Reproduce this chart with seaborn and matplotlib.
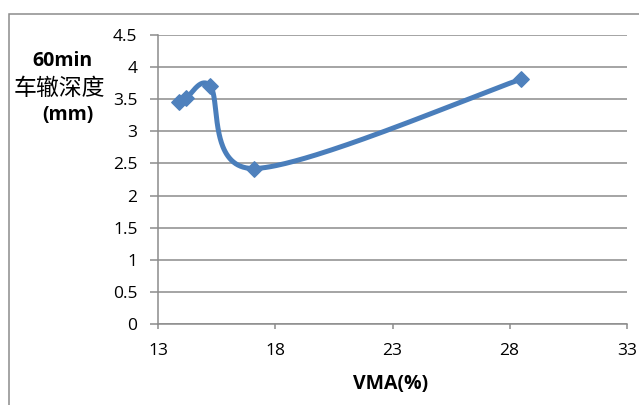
import numpy as np
import pandas as pd
import matplotlib
matplotlib.use("Agg")
import matplotlib.pyplot as plt
from matplotlib.patches import Rectangle
from matplotlib.ticker import FuncFormatter, MultipleLocator
import seaborn as sns

# VMA (%) vs 60-minute rut depth (mm)
vma = [13.9, 14.2, 15.2, 17.1, 28.5]
rut_depth = [3.45, 3.52, 3.71, 2.42, 3.81]

x_ticks = [13, 18, 23, 28, 33]
x_label = "VMA(%)"
y_label_lines = ["60min", "车辙深度", "(mm)"]

LINE_BLUE = "#4A7EBB"
MARKER_BLUE = "#4F81BD"
GRID_GRAY = "#8C8C8C"

sns.set_theme(style="white")
plt.rcParams["font.family"] = ["Open Sans", "DejaVu Sans"]

fig = plt.figure(figsize=(6.39, 4.05), dpi=100)
ax = fig.add_axes([0.2477, 0.1995, 0.7331, 0.7148])
ax.set_xlim(13, 33)
ax.set_ylim(0, 4.5)


def smooth_curve(xs, ys, axis, n=80):
    """Excel-style smoothed line: cubic Bezier segments built in screen space."""
    pts = axis.transData.transform(np.column_stack([xs, ys]))
    out = []
    m = len(pts)
    for i in range(m - 1):
        p0 = pts[i - 1] if i > 0 else pts[i]
        p1, p2 = pts[i], pts[i + 1]
        p3 = pts[i + 2] if i + 2 < m else pts[i + 1]
        d02 = np.linalg.norm(p2 - p0)
        d12 = np.linalg.norm(p2 - p1)
        d13 = np.linalg.norm(p3 - p1)
        f1 = f2 = 1 / 6
        if d02 > 0 and d02 / 6 > d12 / 2:
            f1 = d12 / (2 * d02)
        if d13 > 0 and d13 / 6 > d12 / 2:
            f2 = d12 / (2 * d13)
        c1 = p1 + f1 * (p2 - p0)
        c2 = p2 - f2 * (p3 - p1)
        t = np.linspace(0, 1, n)[:, None]
        seg = ((1 - t) ** 3) * p1 + 3 * ((1 - t) ** 2) * t * c1 \
            + 3 * (1 - t) * (t ** 2) * c2 + (t ** 3) * p2
        out.append(seg if i == 0 else seg[1:])
    curve = axis.transData.inverted().transform(np.vstack(out))
    return pd.DataFrame({"x": curve[:, 0], "y": curve[:, 1]})


points = pd.DataFrame({"VMA": vma, "rut": rut_depth})
curve = smooth_curve(points["VMA"].values, points["rut"].values, ax)

sns.lineplot(data=curve, x="x", y="y", sort=False, estimator=None, ax=ax,
             color=LINE_BLUE, linewidth=3.6, solid_capstyle="round", zorder=3)
sns.scatterplot(data=points, x="VMA", y="rut", ax=ax, marker="D", s=62,
                color=MARKER_BLUE, edgecolor=MARKER_BLUE, linewidth=1, zorder=4)

ax.set_xlim(13, 33)
ax.set_ylim(0, 4.5)
ax.set_xticks(x_ticks)
ax.yaxis.set_major_locator(MultipleLocator(0.5))
ax.yaxis.set_major_formatter(FuncFormatter(lambda v, _: f"{v:g}"))
ax.set_xlabel("")
ax.set_ylabel("")

ax.grid(axis="y", color=GRID_GRAY, linewidth=1.1)
ax.grid(axis="x", visible=False)
ax.set_axisbelow(True)
for side in ("top", "right"):
    ax.spines[side].set_visible(False)
for side in ("left", "bottom"):
    ax.spines[side].set_color(GRID_GRAY)
    ax.spines[side].set_linewidth(1.1)

ax.tick_params(axis="y", which="major", direction="out", length=5.5, width=1.1,
               color=GRID_GRAY, pad=9.5, labelsize=12.5, labelcolor="#000000", left=True)
ax.tick_params(axis="x", which="major", direction="out", length=3.8, width=1.1,
               color=GRID_GRAY, pad=9.5, labelsize=12.5, labelcolor="#000000", bottom=True)

# axis titles
fig.text(391 / 639, 1 - 384 / 405, x_label, ha="center", va="center",
         fontsize=14, fontweight="bold", color="#000000")
fig.text(62.5 / 639, 1 - 61 / 405, y_label_lines[0], ha="center", va="center",
         fontsize=14, fontweight="bold", color="#000000")
fig.text(59 / 639, 1 - 88 / 405, y_label_lines[1], ha="center", va="center",
         fontsize=16.5, color="#000000",
         family=["Noto Sans CJK SC", "DejaVu Sans"])
fig.text(68 / 639, 1 - 115 / 405, y_label_lines[2], ha="center", va="center",
         fontsize=14, fontweight="bold", color="#000000")

# chart-area border
fig.patches.append(Rectangle((8.5 / 639, -0.05), 1.2, 1 - 13.7 / 405 + 0.05,
                             transform=fig.transFigure, fill=False,
                             edgecolor=GRID_GRAY, linewidth=1.1, zorder=0))

fig.savefig("out.png", dpi=100)
